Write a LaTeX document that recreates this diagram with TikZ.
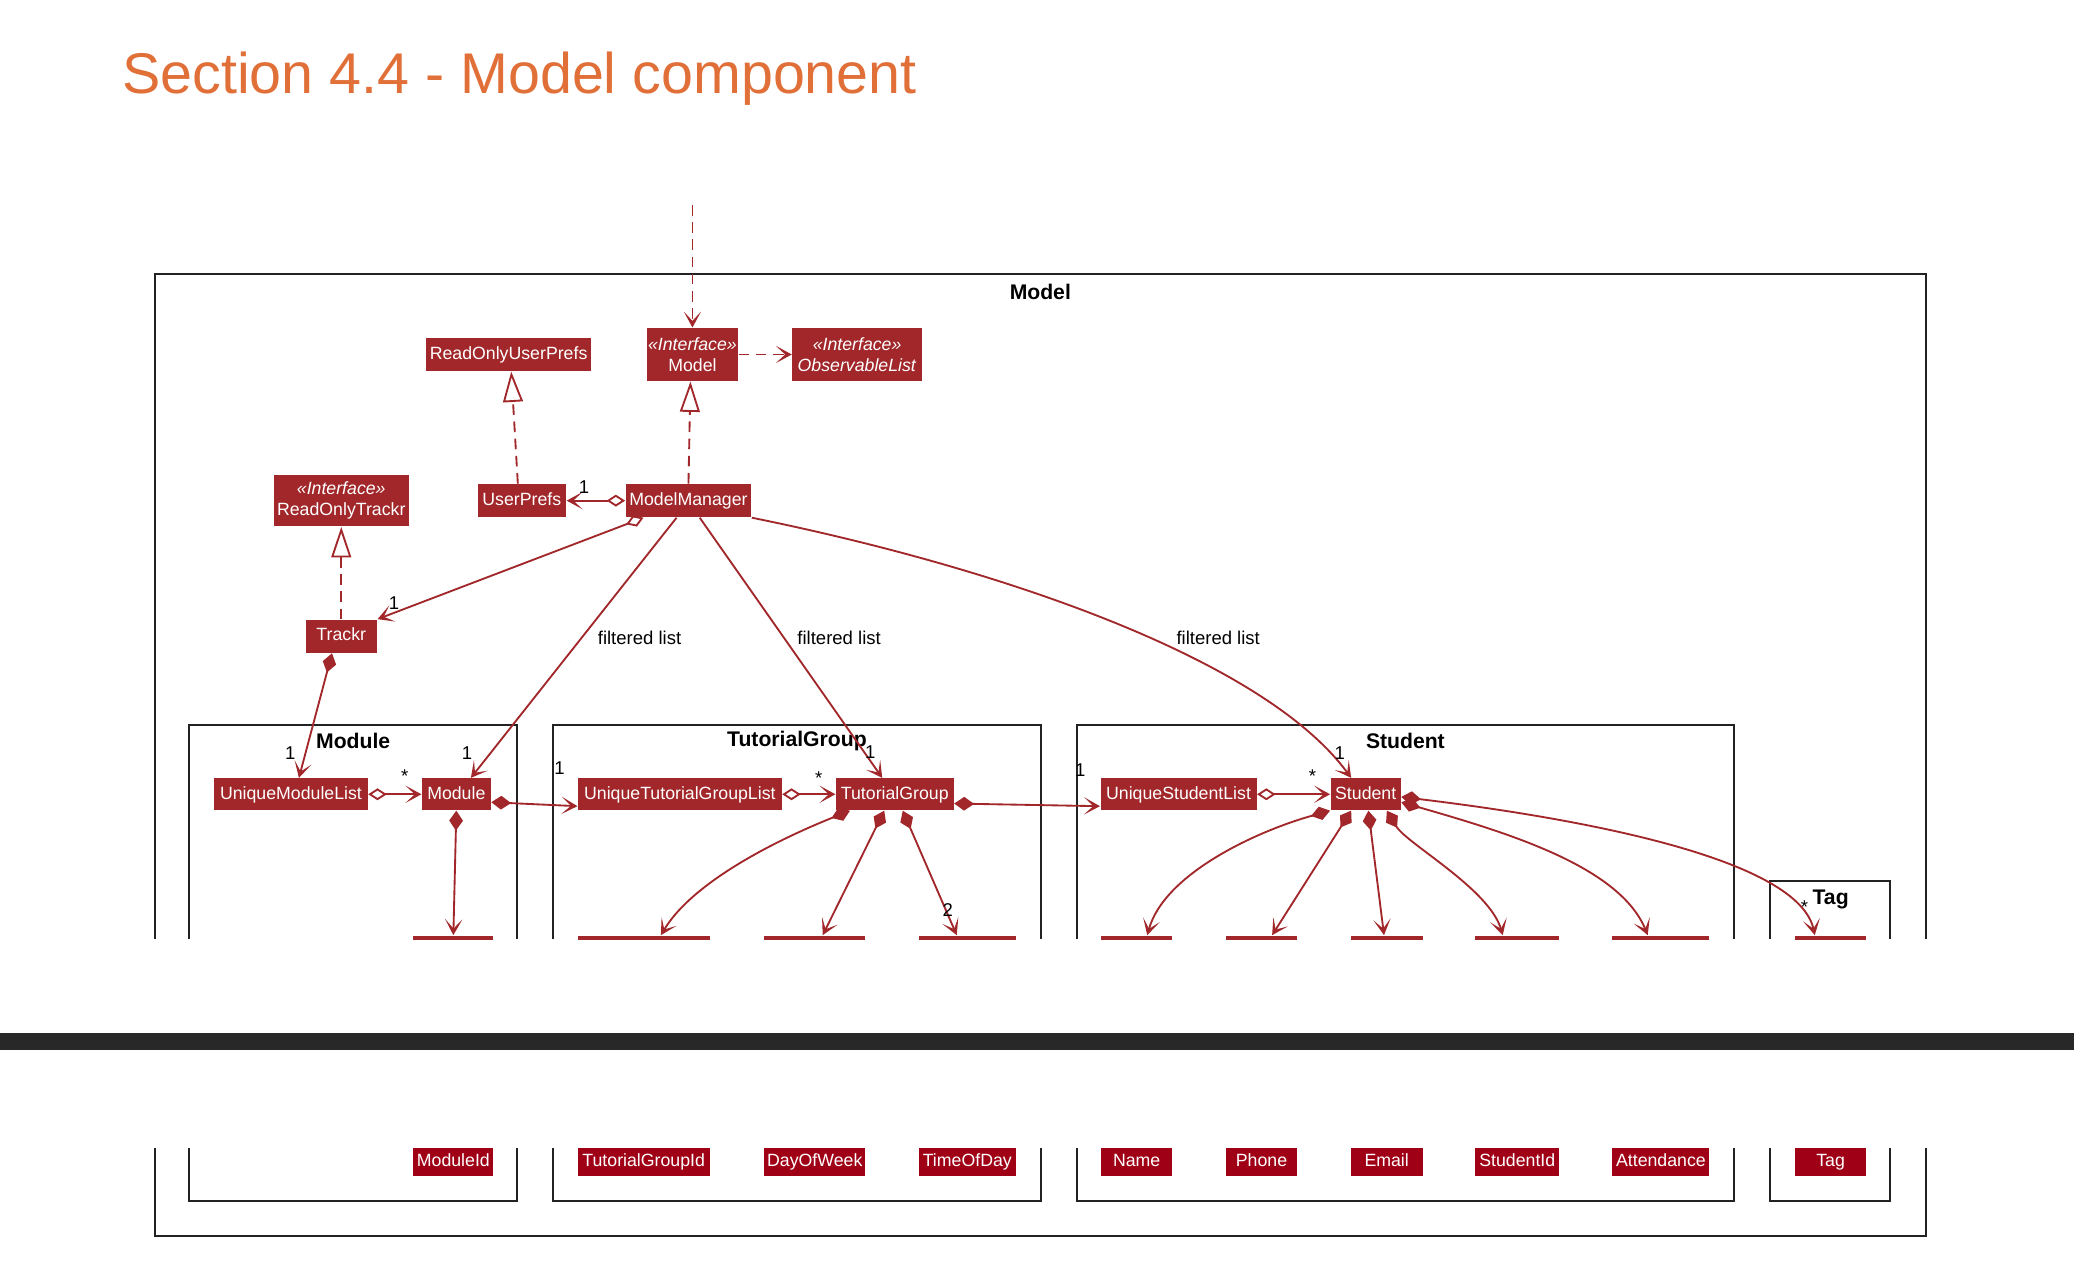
\documentclass[tikz,border=0pt]{standalone}
\usepackage{fontspec}
\setmainfont{Liberation Sans}
\usetikzlibrary{arrows.meta,calc}

\definecolor{umlred}{RGB}{161,39,42}
\definecolor{attrred}{RGB}{159,0,22}
\definecolor{titleorange}{RGB}{225,111,56}
\definecolor{framegray}{RGB}{34,34,34}
\definecolor{bargray}{RGB}{40,40,40}

\tikzset{
  cls/.style={fill=umlred, text=white, inner sep=0pt, minimum height=12.5pt, font=\fontsize{6.7}{8}\selectfont},
  oneline/.style={text height=5pt, text depth=1.4pt},
  iface/.style={cls, minimum height=20pt, align=center},
  attrtop/.style={fill=umlred, inner sep=0pt, minimum height=12pt, anchor=north},
  attrbot/.style={fill=attrred, text=white, inner sep=0pt, minimum height=10.5pt, oneline, font=\fontsize{6.7}{8}\selectfont},
  pkg/.style={font=\fontsize{8}{9}\selectfont\bfseries},
  lbl/.style={font=\fontsize{7}{8}\selectfont, inner sep=0pt},
  umlframe/.style={draw=framegray, line width=0.9pt},
  conn/.style={draw=umlred, line width=0.7pt},
  head/.style={-{Stealth[length=6pt,width=6.5pt,inset=3.5pt]}},
  dep/.style={conn, dash pattern=on 4pt off 2.5pt, head},
  real/.style={conn, dash pattern=on 4pt off 2.5pt, -{Triangle[open,length=11.5pt,width=7.5pt,fill=white]}},
  agg/.style={conn, {Diamond[open,length=7pt,width=4.5pt,fill=white]}-{Stealth[length=6pt,width=6.5pt,inset=3.5pt]}},
  comp/.style={conn, {Diamond[length=7.5pt,width=5.2pt]}-{Stealth[length=6pt,width=6.5pt,inset=3.5pt]}},
}

\begin{document}
\begin{tikzpicture}[x=0.5pt,y=-0.5pt]
\useasboundingbox (0,0) rectangle (1568,972);

\node[anchor=base west, inner sep=0pt, text=titleorange, font=\fontsize{21.7}{26}\selectfont] (title) at (92,71) {Section 4.4 - Model component};

% page 1
\begin{scope}
  \clip (0,0) rectangle (1568,710);

  % Frames
  \draw[umlframe] (117,710) |- (1456,207) -- (1456,710);
  \draw[umlframe] (143,710) |- (391,548) -- (391,710);
  \draw[umlframe] (418,710) |- (787,548) -- (787,710);
  \draw[umlframe] (814,710) |- (1311,548) -- (1311,710);
  \draw[umlframe] (1338,710) |- (1429,666) -- (1429,710);
  \node[pkg] (pmodel) at (786.5,220.5) {Model};
  \node[pkg] (pmodule) at (267,560.5) {Module};
  \node[pkg] (ptg) at (602.5,560.5) {TutorialGroup};
  \node[pkg] (pstudent) at (1062.5,560.5) {Student};
  \node[pkg] (ptag) at (1384,680) {Tag};

  % Klassen
  \node[cls, oneline, minimum width=62.5pt] (rouprefs) at (384.5,268) {ReadOnlyUserPrefs};
  \node[iface, minimum width=34.5pt] (model) at (523.5,268) {\textit{«Interface»}\\Model};
  \node[iface, minimum width=49pt] (obslist) at (648,268) {\textit{«Interface»}\\\textit{ObservableList}};
  \node[iface, minimum width=51pt, minimum height=19.5pt] (rotrackr) at (258,378.5) {\textit{«Interface»}\\ReadOnlyTrackr};
  \node[cls, oneline, minimum width=33.5pt] (uprefs) at (394.5,378.5) {UserPrefs};
  \node[cls, oneline, minimum width=47.5pt] (mm) at (520.5,378.5) {ModelManager};
  \node[cls, oneline, minimum width=27pt] (trackr) at (258,481) {Trackr};
  \node[cls, oneline, minimum width=58pt, minimum height=12pt] (uml) at (220,600.5) {UniqueModuleList};
  \node[cls, oneline, minimum width=26pt, minimum height=12pt] (module) at (345,600.5) {Module};
  \node[cls, oneline, minimum width=77pt, minimum height=12pt] (utgl) at (514,600.5) {UniqueTutorialGroupList};
  \node[cls, oneline, minimum width=44.5pt, minimum height=12pt] (tg) at (676.5,600.5) {TutorialGroup};
  \node[cls, oneline, minimum width=59pt, minimum height=12pt] (usl) at (891,600.5) {UniqueStudentList};
  \node[cls, oneline, minimum width=26.5pt, minimum height=12pt] (student) at (1032.5,600.5) {Student};

  \foreach \n/\x/\w in {mid/342.75/30.25pt, tgid/486.65/50pt, dow/616/38.25pt, tod/731.3/36.7pt,
      nm/859.35/27pt, ph/953.75/27pt, em/1048.35/27.25pt, sid/1147.1/31.6pt, att/1255.7/36.7pt, tagc/1384/27pt} {
    \node[attrtop, minimum width=\w] (\n) at (\x,707) {};
  }

  % Pfeile
  \coordinate (entry) at (523.5,155);
  \draw[dep] (entry) -- (model);
  \draw[dep] (model) -- (obslist);
  \draw[real] ($(uprefs.north)+(-3,0)$) -- ($(rouprefs.south)+(2,0)$);
  \draw[real] (mm.north) -- ($(model.south)+(-1.5,0)$);
  \draw[real] (trackr) -- (rotrackr);
  \draw[agg] (mm) -- (uprefs);
  \draw[agg] ($(mm.south)+(-34,0)$) -- (trackr.north east);
  \draw[comp] ($(trackr.south)+(-7,0)$) -- ($(uml.north)+(6,0)$);
  \draw[conn, head] ($(mm.south)+(-9,0)$) -- ($(module.north)+(11,0)$);
  \draw[conn, head] ($(mm.south)+(8.5,0)$) -- ($(tg.north)+(-9.5,0)$);
  \draw[conn, head] (mm.south east) .. controls +(192,39) and +(-65,-89) .. ($(student.north)+(-11,0)$);

  \draw[agg] (uml) -- (module);
  \draw[comp] ($(module.east)+(0,6)$) -- ($(utgl.west)+(0,9)$);
  \draw[agg] (utgl) -- (tg);
  \draw[comp] ($(tg.east)+(0,7)$) -- ($(usl.west)+(0,9)$);
  \draw[agg] (usl) -- (student);

  \draw[comp] (module.south) -- (mid.north);
  \draw[comp] ($(tg.south west)+(11,0)$) .. controls +(-50,20) and +(25,-42) .. ($(tgid.north)+(13,0)$);
  \draw[comp] ($(tg.south)+(-8,0)$) -- ($(dow.north)+(6,0)$);
  \draw[comp] ($(tg.south)+(6,0)$) -- ($(tod.north)+(-8,0)$);
  \draw[comp] (student.south west) .. controls +(-54,15) and +(13,-47) .. ($(nm.north)+(8,0)$);
  \draw[comp] ($(student.south)+(-11,0)$) -- ($(ph.north)+(8,0)$);
  \draw[comp] ($(student.south)+(2,0)$) -- ($(em.north)+(-2,0)$);
  \draw[comp] ($(student.south)+(16,0)$) .. controls +(15,25) and +(-10,-35) .. ($(sid.north)+(-11,0)$);
  \draw[comp] ($(student.east)+(0,6)$) .. controls +(80,23) and +(-21,-52) .. ($(att.north)+(-10,0)$);
  \draw[comp] ($(student.east)+(0,2)$) .. controls +(141,17) and +(-12,-57) .. ($(tagc.north)+(-12,0)$);

  % Beschriftungen
  \foreach \n/\x/\y/\t in {l1/483.5/482.6/filtered list, l2/634.4/482.6/filtered list, l3/921/482.6/filtered list,
      m1/441.5/368/1, m2/297.8/456/1, m3/219.5/569.5/1, m4/353/569.5/1, m5/306/587/*, m6/423/581/1,
      m7/619/588/*, m8/658/568.5/1, m9/716.6/688/2, m10/816.7/582/1, m11/992.2/587/*, m12/1012.9/569.5/1, m13/1364.3/686/*} {
    \node[lbl] (\n) at (\x,\y) {\t};
  }
\end{scope}

% Seitenumbruch
\fill[bargray] (0,781) rectangle (1568,794);

% page 2
\draw[umlframe] (117,868) |- (1456,934.5) -- (1456,868);
\draw[umlframe] (143,868) |- (391,908) -- (391,868);
\draw[umlframe] (418,868) |- (787,908) -- (787,868);
\draw[umlframe] (814,868) |- (1311,908) -- (1311,868);
\draw[umlframe] (1338,868) |- (1429,908) -- (1429,868);

\foreach \n/\x/\w/\t in {mid/342.75/30.25pt/ModuleId, tgid/486.65/50pt/TutorialGroupId, dow/616/38.25pt/DayOfWeek,
    tod/731.3/36.7pt/TimeOfDay, nm/859.35/27pt/Name, ph/953.75/27pt/Phone, em/1048.35/27.25pt/Email,
    sid/1147.1/31.6pt/StudentId, att/1255.7/36.7pt/Attendance, tagc/1384/27pt/Tag} {
  \node[attrbot, minimum width=\w] (\n-b) at (\x,878.5) {\t};
}
\end{tikzpicture}
\end{document}
